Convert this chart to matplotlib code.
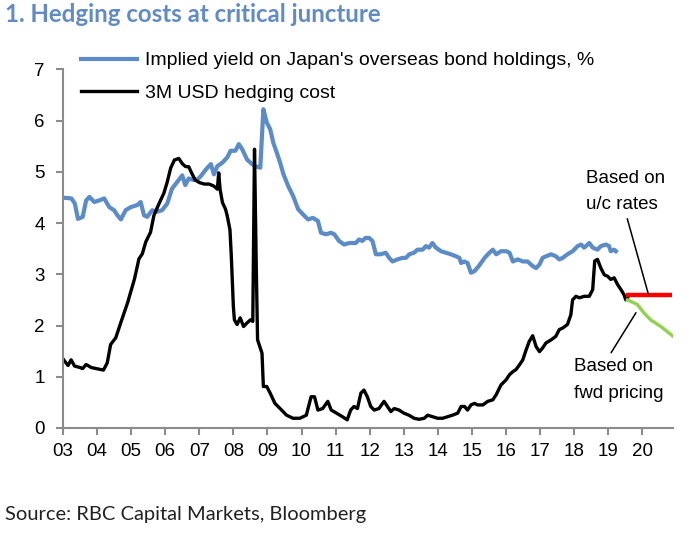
import matplotlib
matplotlib.use("Agg")
import matplotlib.pyplot as plt

# Implied yield on Japan's overseas bond holdings (decimal year, %)
yield_t = [2003.08, 2003.25, 2003.35, 2003.44, 2003.58, 2003.68, 2003.78, 2003.92, 2004.06, 2004.21,
           2004.36, 2004.50, 2004.60, 2004.70, 2004.84, 2004.99, 2005.18, 2005.28, 2005.38, 2005.47,
           2005.62, 2005.76, 2005.91, 2006.06, 2006.20, 2006.35, 2006.50, 2006.59, 2006.69, 2006.83,
           2006.95, 2007.05, 2007.20, 2007.34, 2007.43, 2007.53, 2007.68, 2007.82, 2007.92, 2008.06,
           2008.16, 2008.26, 2008.40, 2008.55, 2008.64, 2008.79, 2008.88, 2008.98, 2009.08, 2009.17,
           2009.27, 2009.37, 2009.47, 2009.61, 2009.75, 2009.90, 2010.04, 2010.19, 2010.33, 2010.48,
           2010.57, 2010.72, 2010.86, 2010.96, 2011.10, 2011.25, 2011.40, 2011.59, 2011.69, 2011.78,
           2011.88, 2011.98, 2012.08, 2012.18, 2012.32, 2012.47, 2012.57, 2012.67, 2012.81, 2012.96,
           2013.06, 2013.16, 2013.30, 2013.40, 2013.55, 2013.65, 2013.74, 2013.84, 2013.94, 2014.09,
           2014.23, 2014.38, 2014.53, 2014.63, 2014.68, 2014.77, 2014.87, 2014.97, 2015.07, 2015.20,
           2015.37, 2015.51, 2015.61, 2015.71, 2015.85, 2016.00, 2016.10, 2016.20, 2016.34, 2016.49,
           2016.63, 2016.78, 2016.88, 2016.98, 2017.07, 2017.17, 2017.32, 2017.46, 2017.56, 2017.66,
           2017.80, 2017.95, 2018.10, 2018.20, 2018.29, 2018.44, 2018.54, 2018.68, 2018.78, 2018.93,
           2019.02, 2019.07, 2019.17, 2019.22]
yield_v = [4.49, 4.48, 4.38, 4.08, 4.12, 4.44, 4.51, 4.41, 4.44, 4.48,
           4.31, 4.25, 4.15, 4.07, 4.25, 4.31, 4.35, 4.41, 4.15, 4.12,
           4.25, 4.22, 4.25, 4.38, 4.67, 4.80, 4.93, 4.74, 4.87, 4.84,
           4.85, 4.92, 5.05, 5.15, 4.95, 5.11, 5.18, 5.28, 5.41, 5.41,
           5.54, 5.44, 5.24, 5.15, 5.11, 5.08, 6.22, 5.96, 5.83, 5.57,
           5.38, 5.18, 4.95, 4.72, 4.53, 4.27, 4.17, 4.07, 4.10, 4.04,
           3.81, 3.78, 3.81, 3.78, 3.65, 3.58, 3.61, 3.61, 3.68, 3.65,
           3.71, 3.71, 3.65, 3.39, 3.39, 3.42, 3.32, 3.25, 3.29, 3.32,
           3.32, 3.39, 3.42, 3.48, 3.48, 3.55, 3.52, 3.61, 3.52, 3.45,
           3.42, 3.39, 3.35, 3.32, 3.22, 3.25, 3.22, 3.03, 3.06, 3.16,
           3.32, 3.42, 3.48, 3.39, 3.45, 3.45, 3.42, 3.25, 3.29, 3.25,
           3.25, 3.16, 3.12, 3.19, 3.32, 3.35, 3.39, 3.35, 3.29, 3.32,
           3.39, 3.45, 3.55, 3.58, 3.52, 3.61, 3.52, 3.48, 3.55, 3.58,
           3.55, 3.45, 3.48, 3.45]

# 3M USD hedging cost (decimal year, %)
hedge_t = [2003.00, 2003.15, 2003.24, 2003.34, 2003.50, 2003.58, 2003.68, 2003.83, 2003.97, 2004.19,
           2004.30, 2004.40, 2004.55, 2004.70, 2004.90, 2005.10, 2005.23, 2005.33, 2005.43, 2005.57,
           2005.67, 2005.82, 2005.96, 2006.06, 2006.16, 2006.27, 2006.40, 2006.50, 2006.60, 2006.69,
           2006.78, 2006.88, 2007.00, 2007.15, 2007.29, 2007.43, 2007.53, 2007.57, 2007.61, 2007.68,
           2007.77, 2007.82, 2007.90, 2007.94, 2008.00, 2008.03, 2008.11, 2008.20, 2008.30, 2008.40,
           2008.50, 2008.57, 2008.62, 2008.67, 2008.71, 2008.84, 2008.88, 2008.98, 2009.08, 2009.22,
           2009.37, 2009.56, 2009.75, 2009.95, 2010.14, 2010.28, 2010.38, 2010.48, 2010.62, 2010.77,
           2010.87, 2011.00, 2011.20, 2011.34, 2011.44, 2011.54, 2011.64, 2011.74, 2011.83, 2011.93,
           2012.03, 2012.13, 2012.27, 2012.42, 2012.52, 2012.62, 2012.72, 2012.86, 2013.00, 2013.15,
           2013.30, 2013.45, 2013.60, 2013.70, 2013.84, 2013.99, 2014.14, 2014.28, 2014.43, 2014.58,
           2014.68, 2014.78, 2014.87, 2014.97, 2015.07, 2015.17, 2015.32, 2015.46, 2015.61, 2015.71,
           2015.85, 2016.00, 2016.10, 2016.20, 2016.29, 2016.39, 2016.49, 2016.59, 2016.68, 2016.78,
           2016.88, 2016.98, 2017.07, 2017.17, 2017.32, 2017.46, 2017.56, 2017.66, 2017.80, 2017.90,
           2017.95, 2018.05, 2018.15, 2018.29, 2018.44, 2018.54, 2018.60, 2018.68, 2018.78, 2018.88,
           2018.98, 2019.07, 2019.17, 2019.27, 2019.37, 2019.46, 2019.51, 2019.56]
hedge_v = [1.35, 1.22, 1.33, 1.21, 1.18, 1.16, 1.24, 1.18, 1.16, 1.13,
           1.27, 1.63, 1.76, 2.06, 2.45, 2.91, 3.30, 3.40, 3.63, 3.82,
           4.15, 4.38, 4.58, 4.80, 5.07, 5.23, 5.26, 5.16, 5.10, 5.10,
           4.97, 4.84, 4.79, 4.76, 4.76, 4.72, 4.66, 4.98, 4.66, 4.40,
           4.27, 4.14, 3.87, 3.35, 2.37, 2.11, 2.02, 2.15, 1.98, 2.05,
           2.11, 2.08, 5.44, 3.22, 1.72, 1.46, 0.81, 0.81, 0.68, 0.48,
           0.38, 0.25, 0.19, 0.19, 0.25, 0.61, 0.61, 0.35, 0.38, 0.52,
           0.35, 0.30, 0.22, 0.16, 0.35, 0.42, 0.38, 0.68, 0.74, 0.61,
           0.42, 0.35, 0.38, 0.52, 0.42, 0.32, 0.38, 0.35, 0.29, 0.25,
           0.19, 0.17, 0.19, 0.25, 0.22, 0.19, 0.19, 0.22, 0.25, 0.29,
           0.42, 0.42, 0.35, 0.45, 0.48, 0.45, 0.45, 0.52, 0.55, 0.65,
           0.84, 0.94, 1.04, 1.10, 1.14, 1.23, 1.33, 1.53, 1.69, 1.80,
           1.59, 1.49, 1.56, 1.66, 1.72, 1.79, 1.92, 1.95, 2.02, 2.21,
           2.50, 2.57, 2.54, 2.57, 2.57, 2.70, 3.26, 3.29, 3.12, 2.99,
           2.96, 2.90, 2.93, 2.80, 2.70, 2.60, 2.50, 2.54]

# projections
uc_t = [2019.52, 2020.88]
uc_v = [2.60, 2.60]
fwd_t = [2019.56, 2019.85, 2020.05, 2020.24, 2020.54, 2020.88]
fwd_v = [2.50, 2.41, 2.24, 2.11, 1.98, 1.80]

year_ticks = list(range(2003, 2021))
year_labels = ["%02d" % (y % 100) for y in year_ticks]

plt.rcParams['font.family'] = ['Liberation Sans', 'DejaVu Sans']

fig = plt.figure(figsize=(6.99, 5.33), dpi=100)
ax = fig.add_axes([0.090, 0.197, 0.873, 0.673])

ax.plot(yield_t, yield_v, color='#5b8cc8', lw=3.0, solid_joinstyle='round',
        label="Implied yield on Japan's overseas bond holdings, %")
ax.plot(hedge_t, hedge_v, color='black', lw=2.4, solid_joinstyle='round',
        label="3M USD hedging cost")
ax.plot(uc_t, uc_v, color='#ff0000', lw=3.2, solid_capstyle='butt')
ax.plot(fwd_t, fwd_v, color='#92d050', lw=2.4)

ax.set_xlim(2003, 2020.9)
ax.set_ylim(0, 7)
ax.set_xticks(year_ticks)
ax.set_xticklabels(year_labels)
ax.set_yticks(range(0, 8))

for s in ['top', 'right']:
    ax.spines[s].set_visible(False)
for s in ['left', 'bottom']:
    ax.spines[s].set_color('#8c8c8c')
    ax.spines[s].set_linewidth(1.5)
ax.tick_params(axis='both', direction='out', length=5, width=1.5, color='#8c8c8c',
               labelsize=13.5, labelcolor='black')
ax.tick_params(axis='y', pad=8)
ax.tick_params(axis='x', pad=6)

# annotations with leader lines
ax.annotate("Based on\nu/c rates", xy=(2020.17, 2.62), xytext=(2018.35, 4.19),
            ha='left', va='bottom', multialignment='left', fontsize=13.5, linespacing=1.75,
            arrowprops=dict(arrowstyle='-', color='black', lw=1.1, shrinkA=2, shrinkB=0,
                            relpos=(0.5, 0.0)))
ax.annotate("Based on\nfwd pricing", xy=(2019.81, 2.25), xytext=(2017.99, 1.37),
            ha='left', va='top', multialignment='left', fontsize=13.5, linespacing=1.75,
            arrowprops=dict(arrowstyle='-', color='black', lw=1.1, shrinkA=2, shrinkB=0,
                            relpos=(0.38, 1.0)))

ax.legend(loc='upper left', bbox_to_anchor=(0.116, 0.903), bbox_transform=fig.transFigure,
          frameon=False, fontsize=14, handlelength=2.9, handletextpad=0.4,
          labelspacing=0.75, borderaxespad=0, borderpad=0)

fig.text(0.007, 0.972, "1. Hedging costs at critical juncture", fontsize=17.3, fontweight='bold',
         family='Lato', color='#628bc4', va='center', ha='left')
fig.text(0.007, 0.034, "Source: RBC Capital Markets, Bloomberg", fontsize=14.5,
         family='Lato', color='#222222', va='center', ha='left')

fig.savefig("out.png", dpi=100)
